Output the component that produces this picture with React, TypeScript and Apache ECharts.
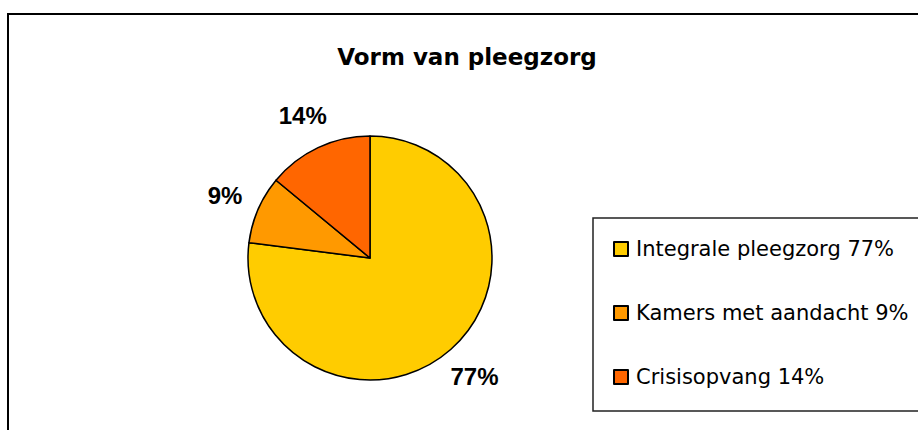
import React, { useEffect, useRef } from "react";
import * as echarts from "echarts";

const titleText = "Vorm van pleegzorg";
const categories = ["Integrale pleegzorg", "Kamers met aandacht", "Crisisopvang"];
const values = [77, 9, 14];
const colors = ["#FFCC00", "#FF9900", "#FF6600"];

export default function App() {
  const ref = useRef<HTMLDivElement>(null);
  useEffect(() => {
    if (!ref.current) return;
    const chart = echarts.init(ref.current, null, { renderer: "svg" });
    const data = categories.map((name, i) => ({
      name,
      value: values[i],
      itemStyle: { color: colors[i] },
    }));
    const valueByName: Record<string, number> = {};
    categories.forEach((c, i) => (valueByName[c] = values[i]));
    chart.setOption({
      animation: false,
      backgroundColor: "#ffffff",
      graphic: [
        {
          type: "rect",
          shape: { x: 8, y: 14, width: 1000, height: 1000 },
          style: { fill: "none", stroke: "#000", lineWidth: 2 },
          silent: true,
        },
        {
          type: "text",
          x: 467,
          y: 57,
          style: {
            text: titleText,
            fontFamily: "DejaVu Sans",
            fontWeight: "bold",
            fontSize: 23,
            fill: "#000",
            textAlign: "center",
            textVerticalAlign: "middle",
          },
        },
      ],
      legend: {
        orient: "vertical",
        left: 593,
        top: 218,
        padding: [18, 40, 21, 20],
        itemGap: 38,
        itemWidth: 14,
        itemHeight: 14,
        icon: "rect",
        borderColor: "#222",
        borderWidth: 1.5,
        backgroundColor: "#fff",
        data: categories,
        formatter: (name: string) => `${name} ${valueByName[name]}%`,
        textStyle: {
          fontFamily: "DejaVu Sans",
          fontSize: 21,
          lineHeight: 26,
          color: "#000",
          padding: [0, 0, 0, 3],
        },
        selectedMode: false,
      },
      series: [
        {
          type: "pie",
          center: [370, 258],
          radius: 122,
          startAngle: 90,
          clockwise: true,
          data,
          label: { show: false },
          labelLine: { show: false },
          itemStyle: { borderColor: "#000", borderWidth: 1.5 },
          emphasis: { disabled: true },
          silent: true,
        },
        {
          type: "pie",
          center: [370, 258],
          radius: [140, 170],
          startAngle: 90,
          clockwise: true,
          data: categories.map((name, i) => ({
            name,
            value: values[i],
            itemStyle: { color: "rgba(0,0,0,0)", borderWidth: 0 },
          })),
          label: {
            show: true,
            position: "inside",
            formatter: "{c}%",
            fontFamily: "Liberation Sans",
            fontWeight: "bold",
            fontSize: 24,
            color: "#000",
          },
          labelLine: { show: false },
          emphasis: { disabled: true },
          silent: true,
        },
      ],
    });
    return () => chart.dispose();
  }, []);
  return (
    <div
      ref={ref}
      style={{ position: "fixed", left: 0, top: 0, width: 918, height: 430 }}
    />
  );
}
